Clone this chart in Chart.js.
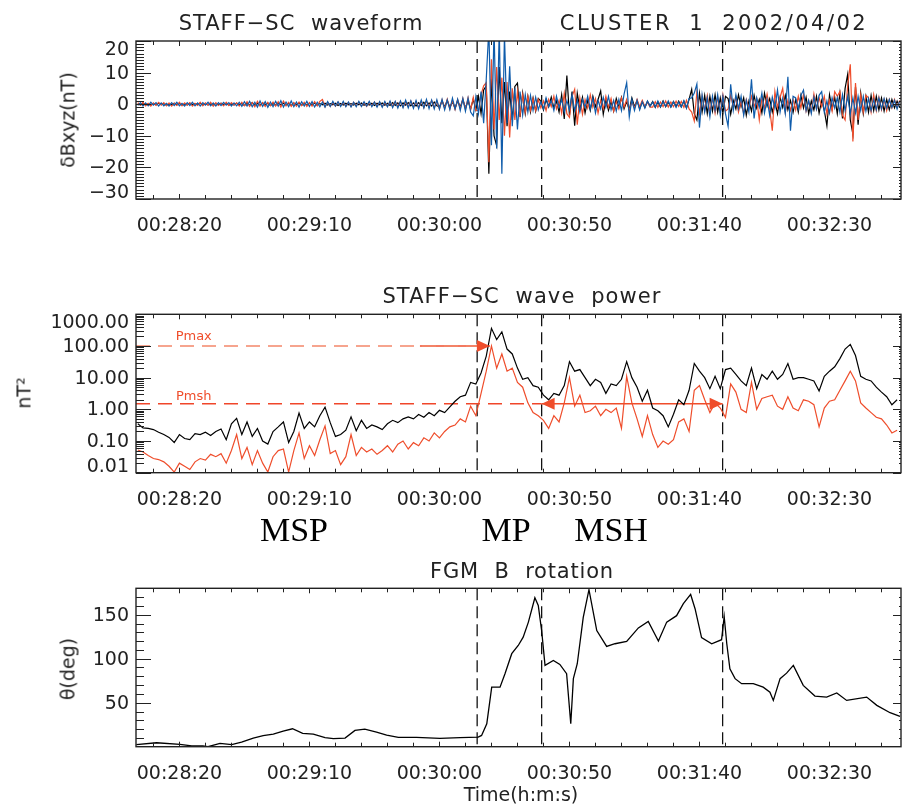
<!DOCTYPE html>
<html>
<head>
<meta charset="utf-8">
<script src="https://cdn.jsdelivr.net/npm/chart.js@4.4.1/dist/chart.umd.min.js"></script>
<style>
  body { margin: 0; background: #fff; }
  #page { position: relative; width: 902px; height: 806px; overflow: hidden; font-family: "DejaVu Sans", sans-serif; color: #222; }
  .panel { position: absolute; left: 0; width: 902px; }
  .txt { position: absolute; white-space: nowrap; line-height: 1; transform: translate(-50%, -50%); }
  .title { font-size: 21px; word-spacing: 8px; }
  .ylab { position: absolute; white-space: nowrap; line-height: 1; font-size: 19px; transform: translate(-50%, -50%) rotate(-90deg); }
  .region { font-family: "Liberation Serif", serif; font-size: 34px; color: #000; }
</style>
</head>
<body>
<div id="page">
  <div class="panel" style="top:0;height:260px"><canvas id="waveChart"></canvas></div>
  <div class="panel" style="top:280px;height:260px"><canvas id="powerChart"></canvas></div>
  <div class="panel" style="top:550px;height:256px"><canvas id="rotChart"></canvas></div>

  <div class="txt title" style="left:301px;top:23px;letter-spacing:1px">STAFF−SC waveform</div>
  <div class="txt title" style="left:714px;top:23px;letter-spacing:2.5px">CLUSTER 1 2002/04/02</div>
  <div class="txt title" style="left:522px;top:296px;letter-spacing:1.1px">STAFF−SC wave power</div>
  <div class="txt title" style="left:522px;top:571px;letter-spacing:0.8px">FGM B rotation</div>
  <div class="txt region" style="left:294px;top:530px">MSP</div>
  <div class="txt region" style="left:506px;top:530px">MP</div>
  <div class="txt region" style="left:611px;top:530px">MSH</div>
  <div class="txt" style="left:521px;top:794px;font-size:19px">Time(h:m:s)</div>
  <div class="ylab" style="left:68px;top:120px">δBxyz(nT)</div>
  <div class="ylab" style="left:24px;top:393px">nT²</div>
  <div class="ylab" style="left:68px;top:669px">θ(deg)</div>
</div>

<script>
// time axis, seconds of the day
const T_MIN = 1683.3, T_MAX = 1977.5;
const xTickTimes = [1700, 1750, 1800, 1850, 1900, 1950];
const boundaryTimes = [1814.5, 1839.3, 1908.9];

// STAFF-SC waveform, one sample per second from 00:28:04
const waveT0 = 1684, waveStep = 1;
const waveBlack = [
  0.2,-0.3,0.3,-0.2,0.1,-0.3,0.2,-0.2,0.3,-0.1,0.2,-0.3,0.1,-0.2,0.3,-0.2,0.2,-0.3,0.1,-0.2,
  0.3,-0.2,0.2,-0.1,0.3,-0.3,0.2,-0.2,0.1,-0.3,0.2,-0.2,0.3,-0.1,0.2,-0.3,0.1,-0.2,0.3,-0.2,
  0.2,-0.4,0.3,-0.3,0.5,-0.4,0.2,-0.3,0.4,-0.2,0.3,-0.4,0.2,-0.3,0.4,-0.2,0.3,-0.3,0.2,-0.4,
  0.3,-0.2,0.4,-0.3,0.2,-0.3,0.3,-0.2,0.4,-0.3,0.2,-0.2,0.3,-0.3,0.2,-0.2,0.3,-0.4,0.2,-0.3,
  0.3,-0.2,0.2,-0.3,0.3,-0.2,0.4,-0.3,0.2,-0.3,0.3,-0.4,0.3,-0.2,0.4,-0.3,0.3,-0.4,0.5,-0.4,
  0.4,-0.5,0.4,-0.3,0.5,-0.5,0.4,-0.6,0.5,-0.4,0.6,-0.5,0.4,-0.6,0.7,-0.5,
  -0.8,1.0,-0.9,1.2,-1.0,0.8,-1.3,1.1,-0.9,1.4,-1.2,1.0,-1.5,1.6,-1.8,
  2.5,-3.0,4.5,5.8,-22,8.0,-10,-13.1,11.8,-6.0,7.0,-7.0,4.0,-5.0,5.6,6.7,-4.0,3.5,-3.0,2.5,-2.5,2.0,-2.2,1.8,
  1.0,-1.8,1.5,-0.8,2.2,-1.2,1.0,-2.5,3.0,-4.7,9.1,-3.5,4.0,-6.8,3.5,-1.5,2.2,-2.8,1.2,-2.0,2.5,-0.8,1.5,4.2,-3.2,
  1.5,-2.0,0.8,-2.2,1.8,-1.0,2.2,-1.5,0.8,-1.8,2.0,-0.8,1.2,-1.5,0.8,-1.0,0.9,-0.6,
  0.8,-1.0,0.7,-0.9,1.0,-0.8,0.6,-0.9,0.8,-0.7,1.0,-0.8,0.9,-1.2,1.5,
  4.7,-3.0,-5.0,3.5,-2.5,2.8,-3.0,2.5,-2.2,3.0,-2.5,2.0,-2.8,2.5,
  1.8,-3.2,1.2,-1.5,3.0,-0.8,2.0,-3.5,1.0,-2.2,2.8,-1.2,1.5,-2.8,3.5,-0.6,1.8,-2.5,0.9,-3.0,2.2,-1.0,2.8,-1.8,1.2,-2.6,
  1.5,-2.5,2.8,-1.2,2.2,-3.0,1.0,-1.8,2.5,-2.8,1.2,-2.0,-6.8,3.0,-1.5,2.2,
  -3.0,3.5,-4.5,5.0,9.5,-5.0,-9.5,5.5,-6.5,3.5,-3.0,2.5,
  -2.5,2.8,-2.0,2.5,-1.8,2.0,-2.2,1.5,-1.8,1.5,-1.2,1.0,-1.0
];
const waveRed = [
  0.5,-0.3,0.6,-0.5,0.3,-0.6,0.4,-0.4,0.6,-0.3,0.5,-0.5,0.4,-0.6,0.3,-0.4,0.6,-0.5,0.4,-0.3,
  0.5,-0.6,0.3,-0.4,0.6,-0.5,0.4,-0.3,0.6,-0.6,0.5,-0.4,0.3,-0.5,0.6,-0.4,0.5,-0.3,0.4,-0.6,
  0.6,-0.5,0.8,-0.7,0.5,-0.8,0.9,-0.6,0.5,-0.7,0.6,-0.5,0.7,-0.6,0.8,-0.9,1.0,-0.5,0.6,-0.7,
  0.5,-0.6,0.7,-0.5,0.6,-0.7,0.5,-0.6,0.8,-0.5,0.9,1.5,-0.8,0.6,-0.7,0.5,-0.6,0.7,-0.5,0.6,
  -0.6,0.5,-0.7,0.6,-0.5,0.7,-0.6,0.5,-0.7,0.6,-0.5,0.7,-0.6,0.6,-0.7,0.5,-0.6,0.7,-0.6,0.8,
  -0.7,0.8,-0.9,0.7,-0.8,1.0,-0.9,0.8,-1.0,0.9,-1.1,1.0,-0.9,1.2,-1.1,1.0,
  -1.5,1.4,-1.3,1.6,-1.5,1.2,-1.7,1.5,-1.4,1.8,-1.6,2.0,-1.8,2.2,-2.0,
  -2.0,3.0,5.8,6.8,-18.4,14.2,-8.0,11.8,-5.0,8.4,-10.0,7.0,-10.5,5.0,-5.0,4.0,-3.5,3.0,-2.5,2.5,-2.0,1.8,-2.0,1.5,
  -1.2,1.0,-2.0,1.5,-0.8,2.5,-1.5,1.2,-2.8,3.5,-3.0,-4.2,2.5,4.7,-6.5,2.0,-3.2,1.5,-1.2,3.0,-1.0,1.8,-2.8,1.2,-1.5,
  2.5,-1.0,1.8,-2.2,0.8,-1.5,2.0,-0.9,1.5,-2.0,0.8,-1.2,1.5,-0.8,1.2,-0.8,0.6,-0.9,
  -0.9,0.8,-1.0,0.7,-0.8,1.0,-0.9,0.7,-0.8,1.0,-0.7,0.9,-1.0,1.2,-1.5,
  -2.5,-5.3,3.8,-3.0,2.5,-2.0,2.8,-2.5,2.0,-2.8,2.2,-2.5,3.0,-2.2,
  -1.5,2.8,-0.8,2.2,-2.5,1.0,-3.0,1.5,-1.2,2.5,-0.8,1.8,-5.0,2.0,-1.2,3.2,-1.5,-8.4,4.0,-1.0,2.2,5.0,-2.5,1.2,-2.0,1.5,
  -1.8,2.5,-1.2,3.0,-2.2,1.0,-2.5,3.2,-1.5,2.0,-0.8,2.5,-3.0,1.2,-2.2,4.0,
  2.5,4.0,-3.5,-5.0,6.0,12.6,-11.8,6.7,-5.0,3.0,-2.5,2.8,
  2.0,-2.5,3.0,-2.0,2.2,-1.8,1.5,-2.0,1.5,-1.2,1.5,-1.0,1.2
];
const waveBlue = [
  -0.4,0.5,-0.6,0.4,-0.5,0.6,-0.3,0.5,-0.6,0.4,-0.5,0.3,-0.6,0.5,-0.4,0.6,-0.5,0.3,-0.6,0.5,
  -0.4,0.6,-0.5,0.4,-0.6,0.5,-0.3,0.6,-0.5,0.4,-0.6,0.5,-0.4,0.6,-0.3,0.5,-0.6,0.4,-0.5,0.6,
  -0.7,0.8,-0.6,0.9,-0.8,0.6,-0.9,1.0,-0.7,0.8,-1.0,0.7,-0.8,0.9,-0.6,1.1,-0.9,0.7,-0.8,1.0,
  -0.8,0.7,-0.9,0.8,-0.6,0.9,-0.7,0.8,-0.9,0.6,-0.8,0.7,-0.9,0.8,-0.7,0.9,-0.6,0.8,-0.7,0.9,
  -0.8,0.7,-0.9,0.6,-0.8,0.9,-0.7,0.8,-0.6,0.9,-0.8,0.7,-0.9,0.8,-1.0,0.9,-0.8,1.0,-1.1,0.9,
  -1.2,1.0,-1.1,1.3,-1.2,1.1,-1.3,1.2,-1.4,1.3,-1.2,1.5,-1.4,1.3,-1.5,1.4,
  -1.6,1.5,-1.8,1.4,-1.7,1.9,-1.5,1.6,-2.0,1.8,-2.2,1.9,-2.5,-3.7,2.4,
  -3.0,4.0,-6.0,8.0,24,-13,24,-14,24,-22,22,-6.0,12,-7.0,5.0,-8.0,4.0,-3.5,3.0,-2.5,2.8,-2.0,2.2,-1.8,
  0.8,-1.5,2.0,-0.8,1.2,-2.0,2.5,-1.0,1.5,-2.5,1.2,-1.8,3.0,-2.0,1.2,-2.5,1.5,-1.0,2.5,-1.5,2.0,-2.8,1.2,-1.5,2.2,
  -1.0,2.5,-1.8,1.2,-2.2,1.5,-2.0,3.2,6.8,-4.0,1.5,-2.0,1.2,-1.8,0.8,-1.2,1.0,-0.7,
  0.7,-0.9,1.0,-0.8,0.9,-0.7,1.0,-0.9,0.8,-1.0,0.7,-0.9,1.1,-1.3,1.8,
  2.0,3.5,6.4,-7.4,3.0,-2.5,2.0,-4.0,2.5,-2.0,3.0,-3.5,2.5,-3.0,
  -7.0,6.3,-2.0,3.0,-1.5,2.5,-3.5,1.2,-2.5,7.9,-4.5,2.0,-1.0,3.5,-2.8,1.5,-3.5,2.2,-1.2,4.5,-2.5,1.8,-3.0,8.7,-8.4,2.5,
  2.0,-1.5,2.8,4.5,-2.0,1.2,-3.0,2.2,-1.5,2.8,4.0,-2.5,1.0,-2.8,2.0,-1.2,
  2.0,-2.5,3.0,-2.0,2.5,-3.0,2.0,-2.8,2.5,-2.0,2.5,-2.2,
  1.8,-2.0,1.5,-1.8,2.0,-1.5,1.8,-1.2,1.5,-1.0,1.2,-1.5,1.0
];
const waveTicks = [20, 10, 0, -10, -20, -30];
const waveTickLabels = ['20', '10', '0', '−10', '−20', '−30'];

// STAFF-SC wave power (nT^2), one value every 2 s from 00:28:04
const powerT0 = 1684, powerStep = 2;
const powerBlack = [
  0.35,0.26,0.25,0.23,0.19,0.16,0.13,0.09,0.16,0.12,
  0.11,0.17,0.16,0.19,0.15,0.2,0.24,0.11,0.35,0.52,
  0.16,0.4,0.14,0.25,0.1,0.08,0.2,0.28,0.4,0.09,
  0.2,0.76,0.25,0.4,0.28,0.63,1.17,0.38,0.14,0.16,
  0.22,0.58,0.21,0.45,0.25,0.32,0.28,0.23,0.35,0.45,
  0.38,0.5,0.58,0.5,0.69,0.56,0.79,0.63,0.93,0.79,
  1.2,1.8,2.5,2.8,7.1,6.3,14,48,360,160,
  280,80,56,20,8.9,10,5.6,5,2.8,2,
  3.2,2.8,5.6,32,16,18,10,5.6,8.9,7.1,
  3.2,6.3,5.6,8.9,32,10,5,1.8,4,1.1,
  0.9,0.63,0.28,0.7,2,1.4,4,28,16,10,
  4.5,11,4.5,18,20,12.6,7.9,5.6,20,4.5,
  12.6,8.9,16,8.9,12.6,28,8.9,10,10,8.9,
  7.9,3.8,11,16,22,40,80,112,50,11,
  8.9,7.9,5,3.5,2.5,1.4,2
];
const powerRed = [
  0.052,0.045,0.035,0.028,0.026,0.022,0.016,0.0105,0.02,0.016,
  0.0126,0.022,0.028,0.025,0.038,0.032,0.04,0.02,0.05,0.16,
  0.028,0.063,0.018,0.05,0.02,0.0105,0.032,0.05,0.056,0.0105,
  0.05,0.18,0.028,0.071,0.035,0.11,0.3,0.04,0.05,0.018,
  0.032,0.16,0.035,0.063,0.045,0.056,0.038,0.05,0.071,0.045,
  0.079,0.1,0.056,0.089,0.071,0.126,0.1,0.18,0.126,0.2,
  0.28,0.32,0.5,0.4,1.26,0.63,3.2,16,100,20,
  56,16,20,7.1,5,1.6,0.79,0.63,0.45,0.25,
  0.63,0.4,1.6,10,1.26,2.8,0.79,0.9,1.26,0.63,
  1,0.79,1.1,0.25,11,1.6,0.5,0.14,0.63,0.16,
  0.063,0.1,0.079,0.11,0.4,0.5,0.2,4,5.6,2,
  0.79,1.6,1.1,0.56,6.3,3.5,1,0.79,7.1,1,
  2.2,2.5,2.8,1.26,1,2.5,1.1,0.9,2,1.8,
  1.4,0.28,1.1,1.8,2,4,7.9,16,7.9,1.6,
  1.1,0.79,0.56,0.5,0.32,0.18,0.22
];
const powerTicks = [1000, 100, 10, 1, 0.1, 0.01];
const powerTickLabels = ['1000.00', '100.00', '10.00', '1.00', '0.10', '0.01'];
const levelNames = ['Pmax', 'Pmsh'];
const levelValues = [100, 1.5];
const pmaxArrow = [1792.5, 1819.4];
const pmshArrow = [1839.3, 1908.9];

// FGM B rotation angle (deg)
const rotTimes = [
  1683.4,1691.2,1700.2,1704.7,1709,1711,1715.6,1720.1,1723.9,1728.4,1732.2,1736.1,1739.9,1743.5,1747.4,
  1751.5,1756,1759.2,1763.7,1767.5,1771.3,1775.8,1779.7,1784.2,1791.2,1800.2,1807.9,1814.9,1816.2,1818.2,
  1820.1,1823.3,1825.2,1827.8,1830.3,1832.2,1834.2,1836.7,1838,1839.3,1840.6,1843.8,1846.3,1848.9,1850.5,
  1851.5,1853,1855.3,1857.5,1860.5,1864.3,1867.5,1872,1876.5,1880.3,1884.2,1887.4,1891.2,1893.8,1896.6,
  1898.3,1900.8,1904.7,1908.5,1909.5,1910.5,1911.7,1913.7,1916.2,1920.7,1924.5,1927.1,1928.4,1931,1933.5,
  1936.1,1939.9,1944.4,1948.9,1952.8,1956.6,1964.3,1968.2,1973.3,1977.1
];
const rotValues = [
  2.3,4.5,2.6,1,1,0,3.7,2.3,5.2,9.8,12.5,14.3,17.7,20.4,15.1,
  14.3,10.2,9.1,9.8,18.5,20,16.6,13.2,10.6,10.6,9.4,10.2,10.9,12.8,26,
  67.7,67.7,83,105.7,115,124.5,141.6,169.3,160.6,132,92.4,98,93.5,83,26,
  77.3,94.3,147,178.4,132,114,117,119.7,135,142.4,120,141.6,148.9,162.5,173,
  156.8,123.9,117,121.6,148,117,88.6,77.3,71.6,71.6,67.7,62,52.6,77.3,83.6,
  92.4,69.7,57.5,56.4,61,52.6,56.4,47,38.6,34.4
];
const rotTicks = [150, 100, 50];

const INK = '#222';
const RED = '#ef4d2b';
const BLUE = '#0f5cab';
const FONT = 'DejaVu Sans';

function hms(v) {
  const m = Math.floor(v / 60), s = Math.round(v - m * 60);
  return '00:' + String(m).padStart(2, '0') + ':' + String(s).padStart(2, '0');
}
const series = (t0, dt, vals) => vals.map((v, i) => ({ x: t0 + i * dt, y: v }));
const verticals = (lo, hi) => boundaryTimes.flatMap(t => [{ x: t, y: hi }, { x: t, y: lo }, { x: t, y: null }]);
const line = (data, color, width, order, extra) => Object.assign({
  data, borderColor: color, borderWidth: width, pointRadius: 0, tension: 0, fill: false, order
}, extra || {});

function xAxis() {
  return {
    type: 'linear', min: T_MIN, max: T_MAX,
    grid: { display: false }, border: { display: false },
    afterBuildTicks: s => { s.ticks = xTickTimes.map(v => ({ value: v })); },
    ticks: { callback: v => hms(v), font: { family: FONT, size: 19 }, color: INK, padding: 8, maxRotation: 0, autoSkip: false },
    afterFit: s => { s.height = 48; }
  };
}
function yAxis(extra) {
  return Object.assign({
    grid: { display: false }, border: { display: false },
    ticks: { display: false },
    afterFit: s => { s.width = 136; }
  }, extra);
}

// box, inward ticks and y labels in the IDL style
const idlFrame = {
  id: 'idlFrame',
  afterDatasetsDraw(chart, args, o) {
    const { ctx, chartArea: a, scales: { x, y } } = chart;
    const seg = (x1, y1, x2, y2) => { ctx.beginPath(); ctx.moveTo(x1, y1); ctx.lineTo(x2, y2); ctx.stroke(); };
    ctx.save();
    ctx.strokeStyle = INK;
    ctx.lineWidth = 1;
    for (let t = 1690; t < T_MAX; t += 10) {
      const px = Math.round(x.getPixelForValue(t)) + 0.5;
      const len = (t - 1700) % 50 === 0 ? 5 : 4;
      seg(px, a.bottom, px, a.bottom - len);
      seg(px, a.top, px, a.top + len);
    }
    o.minor.forEach(v => {
      const py = Math.round(y.getPixelForValue(v)) + 0.5;
      seg(a.left, py, a.left + 8, py); seg(a.right, py, a.right - 2, py);
    });
    o.major.forEach(v => {
      const py = Math.round(y.getPixelForValue(v)) + 0.5;
      seg(a.left, py, a.left + 15, py); seg(a.right, py, a.right - 8, py);
    });
    ctx.lineWidth = 1.4;
    ctx.strokeRect(a.left, a.top, a.right - a.left, a.bottom - a.top);
    ctx.fillStyle = INK;
    ctx.font = '19px "' + FONT + '"';
    ctx.textAlign = 'right';
    ctx.textBaseline = 'middle';
    o.major.forEach((v, i) => {
      const py = Math.min(Math.max(y.getPixelForValue(v), a.top + 8), a.bottom - 7);
      ctx.fillText(o.labels[i], a.left - 7, py + 1);
    });
    ctx.restore();
  }
};

const arrowHeads = {
  id: 'arrowHeads',
  afterDatasetsDraw(chart, args, o) {
    if (!o.tips) return;
    const { ctx, scales: { x, y } } = chart;
    ctx.save();
    ctx.fillStyle = RED;
    o.tips.forEach(([t, v, dir]) => {
      const px = x.getPixelForValue(t), py = y.getPixelForValue(v);
      ctx.beginPath();
      ctx.moveTo(px, py);
      ctx.lineTo(px - dir * 13, py - 6);
      ctx.lineTo(px - dir * 13, py + 6);
      ctx.closePath();
      ctx.fill();
    });
    ctx.font = '13px "' + FONT + '"';
    ctx.textAlign = 'center';
    ctx.textBaseline = 'middle';
    o.notes.forEach(([txt, t, v]) => ctx.fillText(txt, x.getPixelForValue(t), y.getPixelForValue(v)));
    ctx.restore();
  }
};

const common = (pad, frame, arrows) => ({
  responsive: true, maintainAspectRatio: false, animation: false,
  layout: { padding: pad },
  plugins: { legend: { display: false }, tooltip: { enabled: false }, idlFrame: frame, arrowHeads: arrows || {} }
});

// panel 1: waveform
const waveMinor = [];
for (let v = -29; v < 20; v++) if (v % 10 !== 0) waveMinor.push(v);
new Chart(document.getElementById('waveChart'), {
  type: 'line',
  data: { datasets: [
    line(series(waveT0, waveStep, waveBlue), BLUE, 1.2, 1),
    line(series(waveT0, waveStep, waveRed), RED, 1.2, 2),
    line(series(waveT0, waveStep, waveBlack), '#000', 1.2, 3),
    line(verticals(-30, 20), '#111', 1.3, 4, { borderDash: [12, 6] })
  ] },
  options: Object.assign(common({ top: 41, bottom: 13, left: 0, right: 1 },
    { major: waveTicks, labels: waveTickLabels, minor: waveMinor }), {
    scales: { x: xAxis(), y: yAxis({ type: 'linear', min: -30, max: 20 }) }
  }),
  plugins: [idlFrame, arrowHeads]
});

// panel 2: wave power
const powerMinor = [];
[0.01, 0.1, 1, 10, 100].forEach(d => { for (let k = 2; k <= 9; k++) powerMinor.push(d * k); });
new Chart(document.getElementById('powerChart'), {
  type: 'line',
  data: { datasets: [
    line(series(powerT0, powerStep, powerBlack), '#000', 1.2, 1),
    line(series(powerT0, powerStep, powerRed), RED, 1.2, 2),
    line([{ x: T_MIN, y: levelValues[0] }, { x: pmaxArrow[1], y: levelValues[0] }], '#f3876a', 1.3, 3, { borderDash: [14, 8] }),
    line([{ x: pmaxArrow[0], y: levelValues[0] }, { x: pmaxArrow[1], y: levelValues[0] }], RED, 1.4, 3),
    line([{ x: T_MIN, y: levelValues[1] }, { x: pmshArrow[0], y: levelValues[1] }], '#f0462a', 1.3, 3, { borderDash: [14, 8] }),
    line([{ x: pmshArrow[0], y: levelValues[1] }, { x: pmshArrow[1], y: levelValues[1] }], RED, 1.4, 3),
    line(verticals(0.01, 1000), '#111', 1.3, 4, { borderDash: [12, 6] })
  ] },
  options: Object.assign(common({ top: 34.3, bottom: 19.3, left: 0, right: 1 },
    { major: powerTicks, labels: powerTickLabels, minor: powerMinor },
    { tips: [[pmaxArrow[1], levelValues[0], 1], [pmshArrow[0], levelValues[1], -1], [pmshArrow[1], levelValues[1], 1]],
      notes: [[levelNames[0], 1705.5, 196], [levelNames[1], 1705.5, 2.5]] }), {
    scales: { x: xAxis(), y: yAxis({ type: 'logarithmic', min: 0.01, max: 1000 }) }
  }),
  plugins: [idlFrame, arrowHeads]
});

// panel 3: FGM rotation
const rotMinor = [];
for (let v = 10; v < 180; v += 10) if (v % 50 !== 0) rotMinor.push(v);
new Chart(document.getElementById('rotChart'), {
  type: 'line',
  data: { datasets: [
    line(rotTimes.map((t, i) => ({ x: t, y: rotValues[i] })), '#000', 1.3, 1),
    line(verticals(0, 180), '#111', 1.3, 2, { borderDash: [12, 6] })
  ] },
  options: Object.assign(common({ top: 38.3, bottom: 11.3, left: 0, right: 1 },
    { major: rotTicks, labels: rotTicks.map(String), minor: rotMinor }), {
    scales: { x: xAxis(), y: yAxis({ type: 'linear', min: 0, max: 180 }) }
  }),
  plugins: [idlFrame, arrowHeads]
});
</script>
</body>
</html>
